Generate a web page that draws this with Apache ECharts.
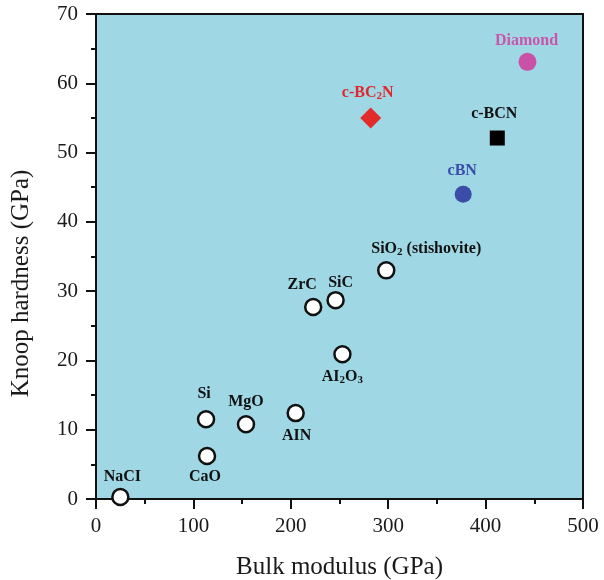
<!DOCTYPE html>
<html>
<head>
<meta charset="utf-8">
<script src="https://cdn.jsdelivr.net/npm/echarts@6/dist/echarts.min.js"></script>
<style>
  html, body { margin: 0; padding: 0; background: #fff; }
  #chart { width: 604px; height: 580px; }
</style>
</head>
<body>
<div id="chart"></div>
<script>
// 材料数据：体积模量 vs 努氏硬度
const materials = ['NaCI', 'Si', 'CaO', 'MgO', 'AIN', 'AI2O3', 'ZrC', 'SiC', 'SiO2', 'cBN', 'c-BCN', 'c-BC2N', 'Diamond'];
const bulkModulus = [25, 113, 114, 154, 205, 253, 223, 246, 298, 377, 412, 282, 443];
const hardness = [0.3, 11.5, 6.2, 10.8, 12.4, 20.9, 27.7, 28.7, 33.0, 44.0, 52.1, 55.0, 63.1];

const FONT = '"Liberation Serif", "DejaVu Serif", serif';

// 标签文字（含下标）
const labelText = {
  'AI2O3': '{n|AI}{s|2}{n|O}{s|3}',
  'SiO2': '{n|SiO}{s|2}{n| (stishovite)}',
  'c-BC2N': '{n|c-BC}{s|2}{n|N}'
};

// 特殊点的样式
const special = {
  'cBN': { symbol: 'circle', size: 17, color: '#3b4da8', label: '#3b4da8' },
  'c-BCN': { symbol: 'rect', size: 15, color: '#000000', label: '#111111' },
  'c-BC2N': { symbol: 'diamond', size: 21, color: '#e32c2a', label: '#e3262b' },
  'Diamond': { symbol: 'circle', size: 18, color: '#c951a8', label: '#c955ac' }
};

const labelPos = {
  'NaCI': ['top', [2, 4]],
  'Si': ['top', [-2, -1]],
  'CaO': ['bottom', [-2, -3]],
  'MgO': ['top', [0, 2]],
  'AIN': ['bottom', [1, -1]],
  'AI2O3': ['bottom', [0, -2]],
  'ZrC': ['top', [-11, 2]],
  'SiC': ['top', [5, 7]],
  'SiO2': ['top', [40, 3]],
  'cBN': ['top', [-1, 0]],
  'c-BCN': ['top', [-3, -2]],
  'c-BC2N': ['top', [-3, 0]],
  'Diamond': ['top', [-1, 3]]
};

const data = materials.map((name, i) => {
  const sp = special[name];
  const txt = labelText[name] || '{n|' + name + '}';
  const pos = labelPos[name];
  const labelColor = sp ? sp.label : '#111111';
  return {
    name,
    value: [bulkModulus[i], hardness[i]],
    symbol: sp ? sp.symbol : 'circle',
    symbolSize: sp ? sp.size : 16,
    itemStyle: sp
      ? { color: sp.color, borderWidth: 0, opacity: 1 }
      : { color: '#ffffff', borderColor: '#111111', borderWidth: 2.5, opacity: 1 },
    label: {
      show: true,
      position: pos[0],
      offset: pos[1],
      distance: 6,
      formatter: txt,
      rich: {
        n: { fontFamily: FONT, fontWeight: 'bold', fontSize: 16, color: labelColor, lineHeight: 18, verticalAlign: 'middle' },
        s: { fontFamily: FONT, fontWeight: 'bold', fontSize: 11, color: labelColor, lineHeight: 18, verticalAlign: 'bottom', padding: [7, 0, 0, 0] }
      }
    }
  };
});

const myChart = echarts.init(document.getElementById('chart'));

const axisCommon = {
  axisLine: { show: true, lineStyle: { color: '#111111', width: 2 } },
  axisTick: { show: true, length: 10, lineStyle: { color: '#111111', width: 2 } },
  minorTick: { show: true, splitNumber: 2, length: 5, lineStyle: { color: '#111111', width: 2 } },
  splitLine: { show: false },
  axisLabel: { fontFamily: FONT, fontSize: 21, color: '#1a1a1a' },
  nameTextStyle: { fontFamily: FONT, fontSize: 25, color: '#1a1a1a' },
  nameLocation: 'middle'
};

const option = {
  animation: false,
  grid: {
    left: 96,
    right: 21,
    top: 14,
    bottom: 81,
    outerBoundsMode: 'none',
    show: true,
    backgroundColor: '#9fd8e4',
    borderColor: '#111111',
    borderWidth: 2
  },
  xAxis: Object.assign({}, axisCommon, {
    type: 'value',
    min: 0,
    max: 500,
    interval: 100,
    name: 'Bulk modulus (GPa)',
    nameGap: 56,
    axisLabel: Object.assign({}, axisCommon.axisLabel, { margin: 17 })
  }),
  yAxis: Object.assign({}, axisCommon, {
    type: 'value',
    min: 0,
    max: 70,
    interval: 10,
    name: 'Knoop hardness (GPa)',
    nameGap: 62,
    nameTextStyle: Object.assign({}, axisCommon.nameTextStyle, { padding: [0, 54, 0, 0] }),
    axisLabel: Object.assign({}, axisCommon.axisLabel, { margin: 18 })
  }),
  series: [
    {
      type: 'scatter',
      data,
      z: 3
    }
  ]
};

myChart.setOption(option);
</script>
</body>
</html>
